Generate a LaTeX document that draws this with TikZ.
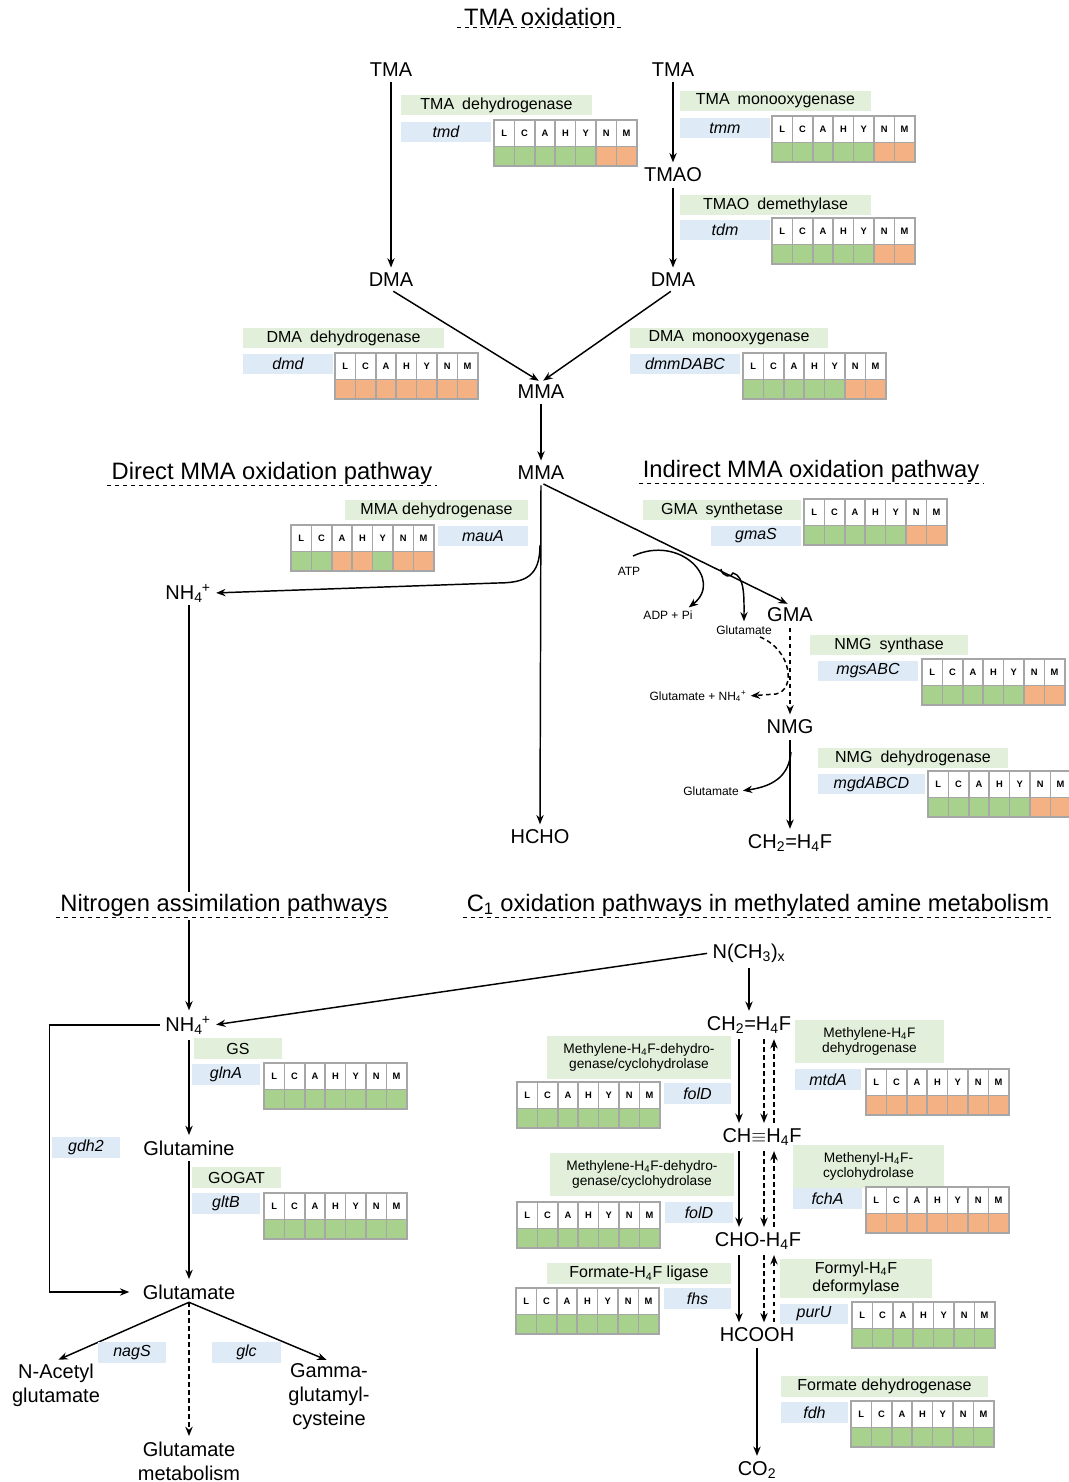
\documentclass[tikz,border=0pt]{standalone}
\usepackage{fontspec}
\setmainfont{Liberation Sans}
\usetikzlibrary{arrows.meta,calc}

\definecolor{enzgruen}{RGB}{226,239,218}
\definecolor{genblau}{RGB}{222,235,247}
\definecolor{rgruen}{RGB}{169,209,142}
\definecolor{rorange}{RGB}{244,177,131}
\definecolor{rastergrau}{RGB}{166,166,166}

\tikzset{
	pfeil/.style={-{Stealth[length=7pt,width=5.5pt]}, line width=1.1pt, shorten <=2pt, shorten >=2pt},
	strich/.style={dash pattern=on 3.5pt off 2.5pt},
	stoff/.style={font=\fontsize{15}{18}\selectfont, align=center, inner sep=2pt},
	klein/.style={font=\fontsize{9}{10}\selectfont, inner sep=1pt},
	titel/.style={font=\fontsize{17.8}{20}\selectfont, inner sep=1pt},
	unterstrich/.style={dashed, line width=0.6pt},
	enztext/.style={font=\fontsize{12}{14}\selectfont, align=center, inner sep=0pt},
	c1text/.style={font=\fontsize{10.3}{11.3}\selectfont},
	gentext/.style={font=\fontsize{12}{14}\selectfont\itshape, inner sep=0pt},
	buchstabe/.style={font=\fontsize{7}{8}\selectfont\bfseries, inner sep=0pt},
	rasterzelle/.style={draw=rastergrau, line width=1.1pt},
}

% Enzymname (gruen) und Gen (blau)
\newcommand{\enzymkasten}[5][]{%
	\fill[enzgruen] (#3) rectangle (#4);
	\node[enztext,#1] (#2) at ($(#3)!0.5!(#4)$) {#5};
}
\newcommand{\genkasten}[4]{%
	\fill[genblau] (#2) rectangle (#3);
	\node[gentext] (#1) at ($(#2)!0.5!(#3)$) {#4};
}
% Raster L C A H Y N M
\newcommand{\lcahynm}[3]{%
	\foreach \buchst [count=\i] in {L,C,A,H,Y,N,M}{
		\draw[rasterzelle, fill=white] ({#1+(\i-1)*20.4},#2) rectangle ++(20.4,26.5);
		\node[buchstabe] at ({#1+(\i-0.5)*20.4},{#2+13.25}) {\buchst};
	}
	\foreach \farbe [count=\i] in {#3}
		\draw[rasterzelle, fill=\farbe] ({#1+(\i-1)*20.4},{#2+26.5}) rectangle ++(20.4,19.5);
}
\newcommand{\nhvier}{NH\textsubscript{4}\kern-0.05em\textsuperscript{+}}

\begin{document}
\begin{tikzpicture}[x=0.75pt, y=-0.75pt]
	\useasboundingbox (0,0) rectangle (1069,1482);

	% TMA-Oxidation
	\node[titel] (t-tma) at (540,17) {TMA oxidation};
	\draw[unterstrich] ([xshift=-4pt]t-tma.south west) -- ([xshift=4pt]t-tma.south east);

	\node[stoff] (tma-l) at (391,70) {TMA};
	\node[stoff] (dma-l) at (391,280) {DMA};
	\node[stoff] (tma-r) at (673,70) {TMA};
	\node[stoff] (tmao) at (673,175) {TMAO};
	\node[stoff] (dma-r) at (673,280) {DMA};
	\node[stoff] (mma1) at (541,392) {MMA};

	\draw[pfeil] (tma-l) -- (dma-l);
	\draw[pfeil] (tma-r) -- (tmao);
	\draw[pfeil] (tmao) -- (dma-r);
	\draw[pfeil] (dma-l.south) -- (mma1.north);
	\draw[pfeil] (dma-r.south) -- (mma1.north);

	\enzymkasten{e-tmd}{401,95}{592,115}{TMA\enspace dehydrogenase}
	\genkasten{g-tmd}{401,122}{491,142}{tmd}
	\lcahynm{494}{120}{rgruen,rgruen,rgruen,rgruen,rgruen,rorange,rorange}

	\enzymkasten{e-tmm}{680,91}{871,111}{TMA\enspace monooxygenase}
	\genkasten{g-tmm}{680,118}{770,138}{tmm}
	\lcahynm{772}{116}{rgruen,rgruen,rgruen,rgruen,rgruen,rorange,rorange}

	\enzymkasten{e-tdm}{680,195}{871,215}{TMAO\enspace demethylase}
	\genkasten{g-tdm}{680,220}{770,240}{tdm}
	\lcahynm{772}{218}{rgruen,rgruen,rgruen,rgruen,rgruen,rorange,rorange}

	\enzymkasten{e-dmd}{243,328}{444,348}{DMA\enspace dehydrogenase}
	\genkasten{g-dmd}{243,354}{333,374}{dmd}
	\lcahynm{335}{353}{rorange,rorange,rorange,rorange,rorange,rorange,rorange}

	\enzymkasten{e-dmm}{630,328}{828,348}{DMA\enspace monooxygenase}
	\genkasten{g-dmm}{630,354}{740,374}{dmmDABC}
	\lcahynm{743}{353}{rgruen,rgruen,rgruen,rgruen,rgruen,rorange,rorange}

	% MMA-Oxidation
	\node[stoff] (mma2) at (541,473) {MMA};
	\draw[pfeil] (mma1) -- (mma2);
	\node[titel] (t-direkt) at (272,473) {Direct MMA oxidation pathway};
	\draw[unterstrich] ([xshift=-2pt]t-direkt.south west) -- ([xshift=2pt]t-direkt.south east);
	\node[titel] (t-indirekt) at (811,471) {Indirect MMA oxidation pathway};
	\draw[unterstrich] ([xshift=-2pt]t-indirekt.south west) -- ([xshift=2pt]t-indirekt.south east);

	\node[stoff] (hcho) at (540,837) {HCHO};
	\node[stoff] (nh4a) at (188,593) {\nhvier};
	\node[stoff] (gma) at (790,615) {GMA};
	\node[stoff] (nmg) at (790,727) {NMG};
	\node[stoff] (ch2a) at (790,843) {CH\textsubscript{2}=H\textsubscript{4}F};

	\draw[pfeil] (mma2.south) -- (hcho.north);
	\coordinate (abzw) at (540,545);
	\draw[pfeil, shorten <=0pt] (abzw) .. controls (540,576) and (526,583) .. (497,583) -- (nh4a.east);
	\draw[pfeil] (mma2.south) -- (gma.north);

	\enzymkasten{e-mau}{345,500}{528,520}{MMA dehydrogenase}
	\genkasten{g-mau}{438,526}{528,546}{mauA}
	\lcahynm{291}{525}{rgruen,rgruen,rorange,rorange,rgruen,rorange,rorange}

	\enzymkasten{e-gma}{643,500}{801,520}{GMA\enspace synthetase}
	\genkasten{g-gma}{711,526}{801,546}{gmaS}
	\lcahynm{804}{499}{rgruen,rgruen,rgruen,rgruen,rgruen,rorange,rorange}

	% Nebenprodukte
	\node[klein] (atp) at (629,571) {ATP};
	\node[klein] (adp) at (668,615) {ADP + Pi};
	\node[klein] (glut1) at (744,630) {Glutamate};
	\node[klein] (glut2) at (698,696) {Glutamate + NH\textsubscript{4}\textsuperscript{+}};
	\node[klein] (glut3) at (711,791) {Glutamate};

	\coordinate (atp-s) at (633,556);
	\draw[pfeil, shorten <=0pt] (atp-s) .. controls (680,534) and (724,580) .. ([xshift=14pt]adp.north);
	\coordinate (haken) at (721,569);
	\draw[pfeil, shorten <=0pt] (haken) .. controls (722,577) and (732,578) .. (733,573)
		.. controls (745,576) and (744,598) .. (glut1.north);
	\draw[pfeil, strich] (gma) -- (nmg);
	\coordinate (glut1-s) at (760,637);
	\draw[pfeil, strich, shorten <=0pt] (glut1-s) .. controls (792,650) and (796,690) .. (776,694) -- (glut2.east);
	\draw[pfeil] (nmg) -- (ch2a);
	\coordinate (nmg-s) at (791,752);
	\draw[pfeil, shorten <=0pt] (nmg-s) .. controls (789,774) and (776,786) .. (glut3.east);

	\enzymkasten{e-mgs}{810,635}{968,655}{NMG\enspace synthase}
	\genkasten{g-mgs}{818,661}{918,681}{mgsABC}
	\lcahynm{922}{659}{rgruen,rgruen,rgruen,rgruen,rgruen,rorange,rorange}

	\enzymkasten{e-mgd}{818,748}{1008,768}{NMG\enspace dehydrogenase}
	\genkasten{g-mgd}{818,774}{925,794}{mgdABCD}
	\lcahynm{928}{771}{rgruen,rgruen,rgruen,rgruen,rgruen,rorange,rorange}

	% Stickstoff-Assimilation
	\node[titel] (t-stick) at (224,905) {Nitrogen assimilation pathways};
	\draw[unterstrich] ([xshift=-2pt]t-stick.south west) -- ([xshift=2pt]t-stick.south east);
	\coordinate (n-achse) at (189,0);
	\draw[line width=1.1pt] (nh4a.south -| n-achse) -- (t-stick.north -| n-achse);

	\node[stoff] (nh4b) at (188,1025) {\nhvier};
	\node[stoff] (glm) at (189,1148) {Glutamine};
	\node[stoff] (glu) at (189,1292) {Glutamate};
	\node[stoff] (nacetyl) at (56,1385) {N-Acetyl\\glutamate};
	\node[stoff] (gamma) at (329,1397) {Gamma-\\glutamyl-\\cysteine};
	\node[stoff] (glumet) at (189,1461) {Glutamate\\metabolism};

	\draw[pfeil] (t-stick.south -| n-achse) -- (nh4b.north -| n-achse);
	\draw[pfeil] (nh4b.south -| n-achse) -- (glm.north -| n-achse);
	\draw[pfeil] (glm) -- (glu);
	\draw[pfeil, shorten >=8pt] (nh4b.west) -- ++(-113,0) |- (glu.west);
	\draw[pfeil, shorten <=0pt] (glu.south) -- (nacetyl.north);
	\draw[pfeil, shorten <=0pt] (glu.south) -- (gamma.north);
	\draw[pfeil, strich, shorten <=0pt] (glu.south) -- (glumet.north);

	\enzymkasten{e-gs}{194,1038}{282,1059}{GS}
	\genkasten{g-gln}{192,1064}{260,1085}{glnA}
	\lcahynm{264}{1063}{rgruen,rgruen,rgruen,rgruen,rgruen,rgruen,rgruen}
	\genkasten{g-gdh}{52,1137}{120,1158}{gdh2}
	\enzymkasten{e-gogat}{192,1167}{281,1188}{GOGAT}
	\genkasten{g-glt}{192,1193}{260,1214}{gltB}
	\lcahynm{264}{1193}{rgruen,rgruen,rgruen,rgruen,rgruen,rgruen,rgruen}
	\genkasten{g-nag}{98,1342}{166,1363}{nagS}
	\genkasten{g-glc}{212,1342}{281,1363}{glc}

	% C1-Oxidation
	\node[titel] (t-c1) at (758,905) {C\textsubscript{1} oxidation pathways in methylated amine metabolism};
	\draw[unterstrich] ([xshift=-2pt]t-c1.south west) -- ([xshift=2pt]t-c1.south east);

	\node[stoff] (nme) at (749,953) {N(CH\textsubscript{3})\textsubscript{x}};
	\node[stoff] (ch2b) at (749,1025) {CH\textsubscript{2}=H\textsubscript{4}F};
	\node[stoff] (chb) at (762,1137) {CH$\equiv$H\textsubscript{4}F};
	\node[stoff] (cho) at (758,1241) {CHO-H\textsubscript{4}F};
	\node[stoff] (hcooh) at (757,1335) {HCOOH};
	\node[stoff] (co2) at (757,1470) {CO\textsubscript{2}};

	\draw[pfeil] (nme.west) -- (nh4b.east);
	\draw[pfeil] (nme) -- (ch2b);

	\coordinate (sp-a) at (739,0);
	\coordinate (sp-b) at (764,0);
	\coordinate (sp-c) at (774,0);
	\draw[pfeil] (ch2b.south -| sp-a) -- (chb.north -| sp-a);
	\draw[pfeil, strich] (ch2b.south -| sp-b) -- (chb.north -| sp-b);
	\draw[pfeil, strich] (chb.north -| sp-c) -- (ch2b.south -| sp-c);
	\draw[pfeil] (chb.south -| sp-a) -- (cho.north -| sp-a);
	\draw[pfeil, strich] (chb.south -| sp-b) -- (cho.north -| sp-b);
	\draw[pfeil, strich] (cho.north -| sp-c) -- (chb.south -| sp-c);
	\draw[pfeil] (cho.south -| sp-a) -- (hcooh.north -| sp-a);
	\draw[pfeil, strich] (cho.south -| sp-b) -- (hcooh.north -| sp-b);
	\draw[pfeil, strich] (hcooh.north -| sp-c) -- (cho.south -| sp-c);
	\draw[pfeil] (hcooh) -- (co2);

	\enzymkasten[c1text]{e-fold1}{547,1036}{731,1079}{Methylene-H\textsubscript{4}F-dehydro-\\genase/cyclohydrolase}
	\genkasten{g-fold1}{664,1083}{731,1104}{folD}
	\lcahynm{517}{1082}{rgruen,rgruen,rgruen,rgruen,rgruen,rgruen,rgruen}

	\enzymkasten[c1text]{e-mtd}{795,1020}{944,1063}{Methylene-H\textsubscript{4}F\\dehydrogenase}
	\genkasten{g-mtd}{795,1069}{861,1090}{mtdA}
	\lcahynm{866}{1069}{rorange,rorange,rorange,rorange,rorange,rorange,rorange}

	\enzymkasten[c1text]{e-fold2}{550,1153}{734,1196}{Methylene-H\textsubscript{4}F-dehydro-\\genase/cyclohydrolase}
	\genkasten{g-fold2}{665,1202}{733,1223}{folD}
	\lcahynm{517}{1202}{rgruen,rgruen,rgruen,rgruen,rgruen,rgruen,rgruen}

	\enzymkasten[c1text]{e-fch}{793,1145}{944,1188}{Methenyl-H\textsubscript{4}F-\\cyclohydrolase}
	\genkasten{g-fch}{793,1188}{862,1209}{fchA}
	\lcahynm{866}{1187}{rorange,rorange,rorange,rorange,rorange,rorange,rorange}

	\enzymkasten{e-fhs}{547,1263}{731,1284}{Formate-H\textsubscript{4}F ligase}
	\genkasten{g-fhs}{664,1288}{731,1309}{fhs}
	\lcahynm{516}{1288}{rgruen,rgruen,rgruen,rgruen,rgruen,rgruen,rgruen}

	\enzymkasten{e-pur}{780,1259}{932,1298}{Formyl-H\textsubscript{4}F\\deformylase}
	\genkasten{g-pur}{780,1304}{848,1324}{purU}
	\lcahynm{852}{1302}{rgruen,rgruen,rgruen,rgruen,rgruen,rgruen,rgruen}

	\enzymkasten{e-fdh}{781,1376}{988,1397}{Formate dehydrogenase}
	\genkasten{g-fdh}{781,1402}{848,1423}{fdh}
	\lcahynm{851}{1401}{rgruen,rgruen,rgruen,rgruen,rgruen,rgruen,rgruen}
\end{tikzpicture}
\end{document}
